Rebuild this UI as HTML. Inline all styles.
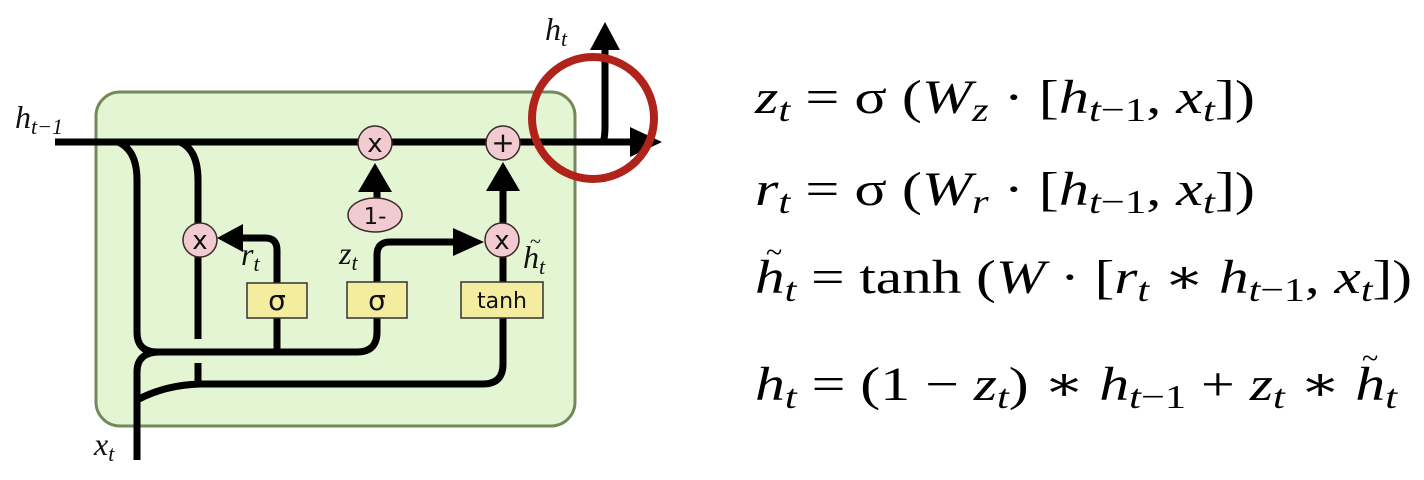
<!DOCTYPE html>
<html><head><meta charset="utf-8"><style>
html,body{margin:0;padding:0;background:#fff;}
svg{display:block;}
.m{font-family:"Liberation Serif","DejaVu Serif",serif;font-style:italic;}
.r{font-style:normal;}
.s{font-family:"DejaVu Sans","Liberation Sans",sans-serif;}
</style></head><body>
<svg width="1424" height="480" viewBox="0 0 1424 480" xmlns="http://www.w3.org/2000/svg">
<rect x="96" y="92" width="479" height="334" rx="24" fill="#e3f5d3" stroke="#718a5b" stroke-width="3"/>
<g fill="none" stroke="#000" stroke-width="7">
<line x1="55" y1="142" x2="635" y2="142"/>
<path d="M118 142 Q137 150 137 180 L137 332 Q137 352 157 352 L357 352 Q377 352 377 332 L377 318"/>
<path d="M277 352 L277 318"/>
<path d="M180 142 Q198 150 198 180 L198 339"/>
<path d="M198 363 L198 384"/>
<path d="M137 460 L137 372 Q137 352 160 352"/>
<path d="M137 400 Q165 385 200 384 L483 384 Q503 384 503 364 L503 318"/>
<path d="M277 284 L277 250 Q277 238 265 238 L240 238"/>
<path d="M377 282 L377 255 Q377 242 390 242 L460 242"/>
<path d="M377 200 L377 185"/>
<path d="M503 282 L503 257"/>
<path d="M503 223 L503 185"/>
<path d="M603 142 Q605 138 605 125 L605 48"/>
</g>
<g fill="#000">
<polygon points="358,192 392,192 375,163"/>
<polygon points="486,191 520,191 503,162"/>
<polygon points="453,228 453,256 484,242"/>
<polygon points="243,224 243,252 217,238"/>
<polygon points="590,50 620,50 605,22"/>
<polygon points="630,127 630,157 662,142"/>
</g>
<g fill="#f2cbd0" stroke="#3a2a2a" stroke-width="1.5">
<circle cx="375" cy="143" r="17"/><circle cx="503" cy="143" r="17"/>
<circle cx="200" cy="240" r="17"/><circle cx="502" cy="240" r="17"/>
<ellipse cx="375" cy="215" rx="27" ry="17"/>
</g>
<g class="s" font-size="26" text-anchor="middle" fill="#111">
<text x="375" y="152">x</text><text x="200" y="249">x</text><text x="502" y="249">x</text>
<text x="503" y="152" font-size="28">+</text>
<text x="375" y="224" font-size="23">1-</text>
</g>
<g fill="#f4ec9e" stroke="#333" stroke-width="1.5">
<rect x="247" y="283" width="60" height="35"/>
<rect x="347" y="282" width="60" height="36"/>
<rect x="461" y="282" width="82" height="36"/>
</g>
<g class="s" font-size="28" text-anchor="middle" fill="#111">
<text x="277" y="310">σ</text><text x="377" y="310">σ</text>
<text x="502" y="308" font-size="22">tanh</text>
</g>
<g class="m" font-size="32" fill="#111">
<text x="15" y="128">h<tspan font-size="22" dy="6">t−1</tspan></text>
<text x="94" y="455">x<tspan font-size="22" dy="6">t</tspan></text>
<text x="545" y="40">h<tspan font-size="22" dy="6">t</tspan></text>
<text x="241" y="265">r<tspan font-size="22" dy="6">t</tspan></text>
<text x="339" y="264">z<tspan font-size="22" dy="6">t</tspan></text>
<text x="523" y="268">h<tspan font-size="22" dy="6">t</tspan></text>
<text x="530" y="248" class="r" font-size="20">~</text>
</g>
<circle cx="593" cy="118" r="61" fill="none" stroke="#b0231b" stroke-width="8"/>
<g class="m" font-size="48" fill="#000">
<text x="755" y="113" textLength="500" lengthAdjust="spacingAndGlyphs">z<tspan font-size="34" dy="8">t</tspan><tspan dy="-8" class="r"> = σ (</tspan>W<tspan font-size="34" dy="8">z</tspan><tspan dy="-8" class="r"> · [</tspan>h<tspan font-size="34" dy="8">t<tspan class="r">−1</tspan></tspan><tspan dy="-8" class="r">, </tspan>x<tspan font-size="34" dy="8">t</tspan><tspan dy="-8" class="r">])</tspan></text>
<text x="755" y="205" textLength="500" lengthAdjust="spacingAndGlyphs">r<tspan font-size="34" dy="8">t</tspan><tspan dy="-8" class="r"> = σ (</tspan>W<tspan font-size="34" dy="8">r</tspan><tspan dy="-8" class="r"> · [</tspan>h<tspan font-size="34" dy="8">t<tspan class="r">−1</tspan></tspan><tspan dy="-8" class="r">, </tspan>x<tspan font-size="34" dy="8">t</tspan><tspan dy="-8" class="r">])</tspan></text>
<text x="755" y="293" textLength="657" lengthAdjust="spacingAndGlyphs">h<tspan font-size="34" dy="8">t</tspan><tspan dy="-8" class="r"> = tanh (</tspan>W<tspan class="r"> · [</tspan>r<tspan font-size="34" dy="8">t</tspan><tspan dy="-8" class="r"> ∗ </tspan>h<tspan font-size="34" dy="8">t</tspan><tspan font-size="34" class="r">−1</tspan><tspan dy="-8" class="r">, </tspan>x<tspan font-size="34" dy="8">t</tspan><tspan dy="-8" class="r">])</tspan></text>
<text x="766" y="262" class="r" font-size="30">~</text>
<text x="755" y="400" textLength="642" lengthAdjust="spacingAndGlyphs">h<tspan font-size="34" dy="8">t</tspan><tspan dy="-8" class="r"> = (1 − </tspan>z<tspan font-size="34" dy="8">t</tspan><tspan dy="-8" class="r">) ∗ </tspan>h<tspan font-size="34" dy="8">t<tspan class="r">−1</tspan></tspan><tspan dy="-8" class="r"> + </tspan>z<tspan font-size="34" dy="8">t</tspan><tspan dy="-8" class="r"> ∗ </tspan>h<tspan font-size="34" dy="8">t</tspan></text>
<text x="1362" y="368" class="r" font-size="30">~</text>
</g>
</svg>
</body></html>
